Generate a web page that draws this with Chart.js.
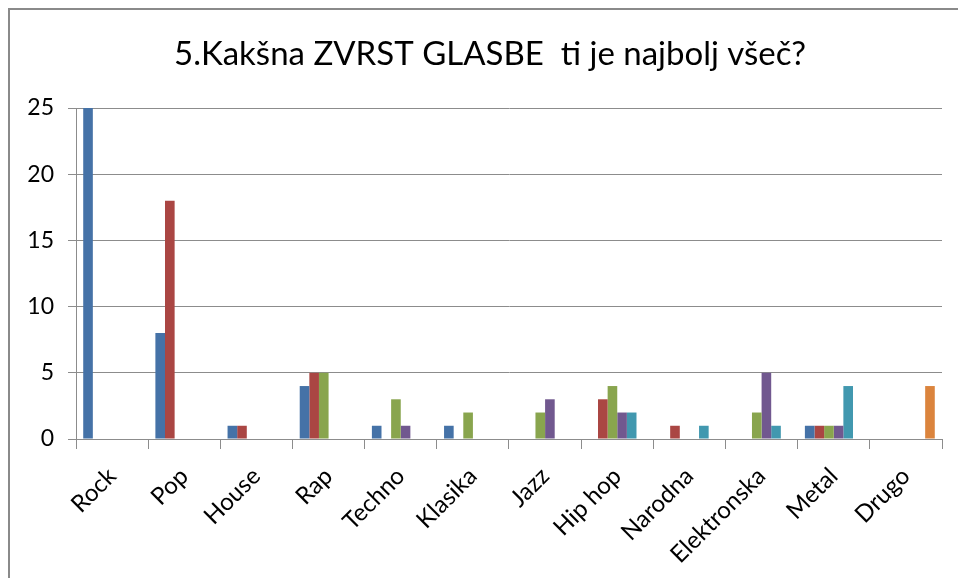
<!DOCTYPE html>
<html>
<head>
<meta charset="utf-8">
<script src="https://cdn.jsdelivr.net/npm/chart.js@4"></script>
<style>
  html, body { margin: 0; padding: 0; background: #fff; overflow: hidden; }
  #wrap { position: absolute; left: 0; top: 0; width: 958px; height: 578px; }
  #frame { position: absolute; left: 8px; top: 8px; width: 1000px; height: 700px;
           border-left: 2px solid #8a8a8a; border-top: 2px solid #8a8a8a; pointer-events: none; }
</style>
</head>
<body>
<div id="wrap"><canvas id="chart" width="958" height="578"></canvas></div>
<div id="frame"></div>
<script>
const titleText = '5.Kakšna ZVRST GLASBE  ti je najbolj všeč?';
const genres = ['Rock', 'Pop', 'House', 'Rap', 'Techno', 'Klasika', 'Jazz', 'Hip hop', 'Narodna', 'Elektronska', 'Metal', 'Drugo'];
const yTicks = [0, 5, 10, 15, 20, 25];

// six series, one colour each (Excel 2007 palette)
const seriesBlue   = [25, 8, 1, 4, 1, 1, 0, 0, 0, 0, 1, 0];
const seriesRed    = [0, 18, 1, 5, 0, 0, 0, 3, 1, 0, 1, 0];
const seriesGreen  = [0, 0, 0, 5, 3, 2, 2, 4, 0, 2, 1, 0];
const seriesPurple = [0, 0, 0, 0, 1, 0, 3, 2, 0, 5, 1, 0];
const seriesTeal   = [0, 0, 0, 0, 0, 0, 0, 2, 1, 1, 4, 0];
const seriesOrange = [0, 0, 0, 0, 0, 0, 0, 0, 0, 0, 0, 4];

const colors = ['#4572A7', '#AA4643', '#89A54E', '#71588F', '#4198AF', '#DB843D'];
const series = [seriesBlue, seriesRed, seriesGreen, seriesPurple, seriesTeal, seriesOrange];

const font = 'Lato, "Liberation Sans", sans-serif';
const gridColor = '#8c8c8c';

// title drawn by hand so it can sit where Excel put it
const titlePlugin = {
    id: 'excelTitle',
    afterDraw(chart) {
        const c = chart.ctx;
        c.save();
        c.font = '33px ' + font;
        c.fillStyle = '#000';
        c.textAlign = 'center';
        c.textBaseline = 'alphabetic';
        c.fillText(titleText, 490, 65);
        c.restore();
    }
};

const ctx = document.getElementById('chart').getContext('2d');
new Chart(ctx, {
    type: 'bar',
    data: {
        labels: genres,
        datasets: series.map((s, i) => ({
            label: 'S' + (i + 1),
            data: s,
            backgroundColor: colors[i],
            borderWidth: 0,
            categoryPercentage: 0.8,
            barPercentage: 1
        }))
    },
    options: {
        responsive: false,
        animation: false,
        devicePixelRatio: 1,
        layout: { padding: { top: 108, left: 0, right: 16, bottom: 0 } },
        plugins: {
            legend: { display: false },
            tooltip: { enabled: false },
            title: { display: false }
        },
        scales: {
            x: {
                afterFit: s => { s.height = 139; },
                grid: { display: true, drawOnChartArea: false, drawTicks: true, tickLength: 10, color: gridColor, offset: true },
                border: { display: true, color: gridColor, width: 1 },
                ticks: {
                    color: '#000',
                    font: { family: font, size: 24 },
                    minRotation: 45, maxRotation: 45,
                    padding: 13,
                    autoSkip: false
                }
            },
            y: {
                min: 0, max: 25,
                afterFit: s => { s.width = 76; },
                afterBuildTicks: s => { s.ticks = yTicks.map(v => ({ value: v })); },
                grid: { color: gridColor, tickLength: 8, drawTicks: true },
                border: { display: true, color: gridColor, width: 1 },
                ticks: {
                    color: '#000',
                    font: { family: font, size: 23 },
                    padding: 14
                }
            }
        }
    },
    plugins: [titlePlugin]
});
</script>
</body>
</html>
